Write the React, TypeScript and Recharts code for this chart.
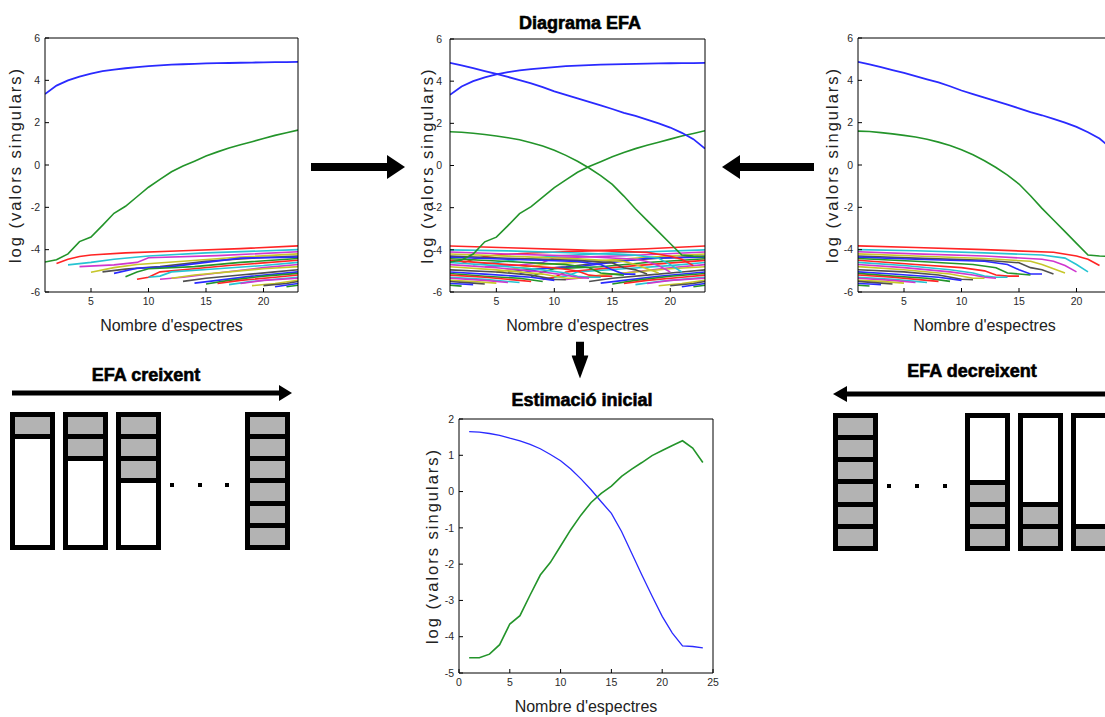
import { LineChart, Line, XAxis, YAxis } from 'recharts';

// spectra index (x) and curve values
const spectra = [1, 2, 3, 4, 5, 6, 7, 8, 9, 10, 11, 12, 13, 14, 15, 16, 17, 18, 19, 20, 21, 22, 23];
const forwardBlue = [3.35, 3.75, 4.0, 4.18, 4.32, 4.43, 4.51, 4.57, 4.62, 4.67, 4.71, 4.74, 4.76, 4.78, 4.8, 4.81, 4.82, 4.83, 4.84, 4.85, 4.86, 4.86, 4.87];
const forwardGreen = [-4.58, -4.48, -4.2, -3.62, -3.4, -2.85, -2.28, -1.95, -1.5, -1.05, -0.68, -0.32, -0.05, 0.18, 0.42, 0.62, 0.8, 0.96, 1.1, 1.25, 1.4, 1.52, 1.65];
const backwardBlue = [4.87, 4.75, 4.62, 4.48, 4.35, 4.2, 4.05, 3.9, 3.72, 3.52, 3.35, 3.18, 3.02, 2.85, 2.68, 2.5, 2.35, 2.18, 2.0, 1.8, 1.55, 1.25, 0.8];
const backwardGreen = [1.6, 1.58, 1.53, 1.47, 1.4, 1.32, 1.22, 1.08, 0.92, 0.72, 0.48, 0.2, -0.12, -0.48, -0.9, -1.45, -2.05, -2.6, -3.15, -3.7, -4.25, -4.3, -4.33];

const estimSpectra = [1, 2, 3, 4, 5, 6, 7, 8, 9, 10, 11, 12, 13, 14, 15, 16, 17, 18, 19, 20, 21, 22, 23, 24];
const estimBlue = [1.65, 1.64, 1.6, 1.55, 1.47, 1.4, 1.3, 1.18, 1.02, 0.85, 0.62, 0.35, 0.05, -0.28, -0.6, -1.1, -1.7, -2.3, -2.88, -3.44, -3.9, -4.25, -4.27, -4.31];
const estimGreen = [-4.58, -4.58, -4.48, -4.22, -3.65, -3.42, -2.85, -2.3, -1.95, -1.5, -1.05, -0.65, -0.3, -0.05, 0.15, 0.42, 0.62, 0.8, 0.99, 1.13, 1.27, 1.4, 1.2, 0.8];

// remaining (noise) singular values, lines 3..23, as [spectrum, value] points
const forwardNoise: [number, number][][] = [
  [[2, -4.65], [3, -4.45], [4, -4.32], [5, -4.25], [8, -4.15], [13, -4.05], [18, -3.95], [23, -3.82]],
  [[3, -4.72], [5, -4.6], [7, -4.45], [10, -4.3], [15, -4.15], [23, -4.0]],
  [[4, -4.8], [7, -4.72], [9, -4.6], [10, -4.38], [16, -4.28], [23, -4.1]],
  [[5, -5.07], [7, -4.85], [9, -4.7], [13, -4.55], [18, -4.35], [23, -4.2]],
  [[6, -5.05], [8, -4.92], [11, -4.8], [15, -4.55], [19, -4.4], [23, -4.3]],
  [[7, -5.12], [9, -4.88], [12, -4.8], [15, -4.6], [18, -4.4], [23, -4.35]],
  [[8, -5.28], [9, -5.05], [10, -4.9], [14, -4.8], [18, -4.6], [23, -4.42]],
  [[9, -5.4], [10, -5.3], [11, -5.05], [13, -4.95], [17, -4.75], [23, -4.5]],
  [[10, -5.3], [11, -5.25], [12, -5.05], [16, -4.9], [20, -4.75], [23, -4.6]],
  [[11, -5.4], [13, -5.3], [16, -5.1], [20, -4.85], [23, -4.7]],
  [[12, -5.35], [14, -5.2], [17, -5.05], [20, -4.9], [23, -4.8]],
  [[13, -5.5], [15, -5.35], [18, -5.2], [21, -5.05], [23, -4.95]],
  [[14, -5.58], [16, -5.45], [19, -5.25], [23, -5.05]],
  [[15, -5.62], [17, -5.45], [20, -5.25], [23, -5.12]],
  [[16, -5.6], [18, -5.45], [21, -5.3], [23, -5.2]],
  [[17, -5.65], [19, -5.5], [21, -5.4], [23, -5.3]],
  [[18, -5.6], [20, -5.45], [23, -5.35]],
  [[19, -5.7], [21, -5.6], [23, -5.45]],
  [[20, -5.7], [22, -5.6], [23, -5.5]],
  [[21, -5.75], [23, -5.6]],
  [[22, -5.75], [23, -5.68]],
];

const backwardNoise: [number, number][][] = [
  [[1, -3.82], [6, -3.9], [12, -4.0], [18, -4.12], [20, -4.3], [21, -4.45], [22, -4.75]],
  [[1, -4.0], [6, -4.05], [12, -4.15], [17, -4.25], [19, -4.4], [20, -4.7], [21, -5.05]],
  [[1, -4.1], [6, -4.2], [12, -4.3], [17, -4.45], [18, -4.55], [19, -4.75], [20, -5.05]],
  [[1, -4.2], [6, -4.3], [12, -4.42], [16, -4.55], [17, -4.7], [18, -4.9], [19, -5.1]],
  [[1, -4.3], [6, -4.4], [12, -4.5], [15, -4.62], [16, -4.85], [17, -4.95], [18, -5.15]],
  [[1, -4.35], [6, -4.45], [12, -4.55], [14, -4.7], [15, -4.95], [16, -5.15], [17, -5.15]],
  [[1, -4.42], [6, -4.55], [11, -4.7], [13, -4.85], [14, -5.1], [15, -5.15], [16, -5.2]],
  [[1, -4.5], [6, -4.7], [10, -4.85], [12, -5.0], [13, -5.2], [14, -5.25], [15, -5.25]],
  [[1, -4.6], [5, -4.75], [9, -4.95], [11, -5.1], [12, -5.25], [13, -5.3], [14, -5.3]],
  [[1, -4.7], [5, -4.85], [9, -5.05], [11, -5.2], [12, -5.3], [13, -5.35]],
  [[1, -4.8], [5, -4.95], [9, -5.15], [11, -5.35], [12, -5.35]],
  [[1, -4.95], [5, -5.05], [8, -5.2], [10, -5.4], [11, -5.42]],
  [[1, -5.05], [4, -5.15], [8, -5.3], [10, -5.45]],
  [[1, -5.12], [4, -5.25], [7, -5.35], [9, -5.5]],
  [[1, -5.2], [4, -5.3], [7, -5.45], [8, -5.5]],
  [[1, -5.3], [4, -5.4], [6, -5.5], [7, -5.55]],
  [[1, -5.35], [4, -5.45], [6, -5.55]],
  [[1, -5.45], [3, -5.5], [5, -5.58]],
  [[1, -5.5], [3, -5.58], [4, -5.62]],
  [[1, -5.6], [2, -5.62], [3, -5.65]],
  [[1, -5.68], [2, -5.72]],
];

const topXTicks = [5, 10, 15, 20];
const topYTicks = [-6, -4, -2, 0, 2, 4, 6];
const estimXTicks = [0, 5, 10, 15, 20, 25];
const estimYTicks = [-5, -4, -3, -2, -1, 0, 1, 2];

const creixentBlocks = [1, 2, 3, 6];
const decreixentBlocks = [6, 3, 2, 1];

const COLORS: Record<string, string> = {
  blue: '#2a2aff',
  green: '#23942a',
  red: '#ff2424',
  cyan: '#26c4d2',
  magenta: '#cf36cf',
  yellow: '#c6c62a',
  black: '#505050',
};
const cycle = ['blue', 'green', 'red', 'cyan', 'magenta', 'yellow', 'black'];

const FONT = '"Liberation Sans", Arial, Helvetica, sans-serif';
const tickStyle = { fontSize: 10.5, fill: '#2a2a2a', fontFamily: FONT };

type Pt = { x: number; y: number };
type Series = { data: Pt[]; color: string; width: number };

const zip = (xs: number[], ys: number[]): Pt[] => ys.map((y, i) => ({ x: xs[i], y }));
const fromPairs = (pairs: [number, number][]): Pt[] => pairs.map(([x, y]) => ({ x, y }));
const noiseSeries = (lines: [number, number][][]): Series[] =>
  lines.map((pts, k) => ({ data: fromPairs(pts), color: COLORS[cycle[(k + 2) % 7]], width: 1.6 }));

const fwdMain: Series[] = [
  { data: zip(spectra, forwardBlue), color: COLORS.blue, width: 1.8 },
  { data: zip(spectra, forwardGreen), color: COLORS.green, width: 1.6 },
];
const bwdMain: Series[] = [
  { data: zip(spectra, backwardBlue), color: COLORS.blue, width: 1.8 },
  { data: zip(spectra, backwardGreen), color: COLORS.green, width: 1.6 },
];
const estimMain: Series[] = [
  { data: zip(estimSpectra, estimBlue), color: COLORS.blue, width: 1.3 },
  { data: zip(estimSpectra, estimGreen), color: COLORS.green, width: 1.6 },
];

interface EfaChartProps {
  left: number;
  top: number;
  width: number;
  height: number;
  marginTop: number;
  yAxisWidth: number;
  yLabelOffset: number;
  yTickMargin: number;
  xDomain: [number, number];
  xTicks: number[];
  yDomain: [number, number];
  yTicks: number[];
  series: Series[];
}

function EfaChart(p: EfaChartProps) {
  const frame = { stroke: '#000', strokeWidth: 1 };
  return (
    <div style={{ position: 'absolute', left: p.left, top: p.top }}>
      <LineChart width={p.width} height={p.height} margin={{ top: p.marginTop - 1, right: 11, bottom: 4, left: 0 }}>
        <XAxis
          dataKey="x"
          type="number"
          domain={p.xDomain}
          ticks={p.xTicks}
          allowDataOverflow
          height={40}
          tickSize={-4}
          tickMargin={10}
          axisLine={frame}
          tickLine={frame}
          tick={tickStyle}
          label={{
            value: "Nombre d'espectres",
            position: 'insideBottom',
            offset: 1,
            fontSize: 16,
            fill: '#222',
            style: { fontSize: 16, fill: '#222', fontFamily: FONT },
          }}
        />
        <XAxis
          xAxisId="t"
          orientation="top"
          type="number"
          domain={p.xDomain}
          ticks={p.xTicks}
          height={1}
          tickSize={-4}
          tick={false}
          axisLine={frame}
          tickLine={frame}
        />
        <YAxis
          type="number"
          domain={p.yDomain}
          ticks={p.yTicks}
          allowDataOverflow
          width={p.yAxisWidth}
          tickSize={-4}
          tickMargin={p.yTickMargin}
          axisLine={frame}
          tickLine={frame}
          tick={tickStyle}
          label={{
            value: 'log (valors singulars)',
            angle: -90,
            position: 'insideLeft',
            offset: p.yLabelOffset,
            fontSize: 16,
            fill: '#222',
            style: { textAnchor: 'middle', fontSize: 16.5, fill: '#222', letterSpacing: 2, fontFamily: FONT },
          }}
        />
        <YAxis
          yAxisId="r"
          orientation="right"
          type="number"
          domain={p.yDomain}
          ticks={p.yTicks}
          width={1}
          tickSize={-4}
          tick={false}
          axisLine={frame}
          tickLine={frame}
        />
        {p.series.map((s, i) => (
          <Line
            key={i}
            data={s.data}
            dataKey="y"
            type="linear"
            stroke={s.color}
            strokeWidth={s.width}
            dot={false}
            activeDot={false}
            isAnimationActive={false}
          />
        ))}
      </LineChart>
    </div>
  );
}

function Arrow({ x, y, length, rotate, shaft, headLen, headW }: { x: number; y: number; length: number; rotate: number; shaft: number; headLen: number; headW: number }) {
  const body = length - headLen;
  return (
    <svg
      width={length}
      height={headW}
      style={{ position: 'absolute', left: x, top: y - headW / 2, transformOrigin: `0px ${headW / 2}px`, transform: `rotate(${rotate}deg)` }}
    >
      <rect x={0} y={(headW - shaft) / 2} width={body + 1} height={shaft} fill="#000" />
      <polygon points={`${body},0 ${length},${headW / 2} ${body},${headW}`} fill="#000" />
    </svg>
  );
}

function Block({ filled, fromBottom }: { filled: number; fromBottom: boolean }) {
  const cells = Array.from({ length: filled }, (_, i) => (
    <div key={i} style={{ height: 17.17, flex: '0 0 auto', background: '#b3b3b3' }} />
  ));
  const blank = filled < 6 ? <div key="w" style={{ flex: 1, background: '#fff' }} /> : null;
  return (
    <div style={{ width: 45, height: 138, boxSizing: 'border-box', background: '#000', padding: 5, display: 'flex', flexDirection: 'column', gap: 5, flex: '0 0 auto' }}>
      {fromBottom ? [blank, ...cells] : [...cells, blank]}
    </div>
  );
}

function Dots({ width, padRight }: { width: number; padRight: number }) {
  return (
    <div style={{ width, height: 138, display: 'flex', alignItems: 'center', justifyContent: 'space-between', paddingLeft: 1, paddingRight: padRight, paddingTop: 8, boxSizing: 'border-box', flex: '0 0 auto' }}>
      {[0, 1, 2].map((i) => (
        <div key={i} style={{ width: 4, height: 4, background: '#000' }} />
      ))}
    </div>
  );
}

function Title({ text, x, y }: { text: string; x: number; y: number }) {
  return (
    <div style={{ position: 'absolute', left: x, top: y, transform: 'translate(-50%, -50%)', fontWeight: 'bold', fontSize: 18, whiteSpace: 'nowrap', color: '#000', lineHeight: 1, WebkitTextStroke: '0.6px #000' }}>
      {text}
    </div>
  );
}

export default function App() {
  return (
    <div style={{ position: 'fixed', left: 0, top: 0, width: 1105, height: 717, overflow: 'hidden', background: '#fff', fontFamily: FONT }}>
      <EfaChart
        left={0}
        top={0}
        width={310}
        height={336}
        marginTop={38}
        yAxisWidth={45}
        yLabelOffset={15}
        yTickMargin={9}
        xDomain={[1, 23]}
        xTicks={topXTicks}
        yDomain={[-6, 6]}
        yTicks={topYTicks}
        series={[...noiseSeries(forwardNoise), ...fwdMain]}
      />
      <EfaChart
        left={410}
        top={0}
        width={307}
        height={336}
        marginTop={39}
        yAxisWidth={40}
        yLabelOffset={17}
        yTickMargin={12}
        xDomain={[1, 23]}
        xTicks={topXTicks}
        yDomain={[-6, 6]}
        yTicks={topYTicks}
        series={[...noiseSeries(forwardNoise), ...noiseSeries(backwardNoise), ...fwdMain, ...bwdMain]}
      />
      <EfaChart
        left={820}
        top={0}
        width={303}
        height={336}
        marginTop={38}
        yAxisWidth={38}
        yLabelOffset={12}
        yTickMargin={9}
        xDomain={[1, 23]}
        xTicks={topXTicks}
        yDomain={[-6, 6]}
        yTicks={topYTicks}
        series={[...noiseSeries(backwardNoise), ...bwdMain]}
      />
      <EfaChart
        left={420}
        top={380}
        width={305}
        height={337}
        marginTop={39}
        yAxisWidth={39}
        yLabelOffset={12}
        yTickMargin={9}
        xDomain={[0, 25]}
        xTicks={estimXTicks}
        yDomain={[-5, 2]}
        yTicks={estimYTicks}
        series={estimMain}
      />

      <Title text="Diagrama EFA" x={580} y={23} />
      <Title text="Estimació inicial" x={582} y={400} />
      <Title text="EFA creixent" x={146} y={375} />
      <Title text="EFA decreixent" x={972} y={371} />

      <Arrow x={311} y={167} length={94} rotate={0} shaft={8} headLen={18} headW={24} />
      <Arrow x={814} y={167} length={92} rotate={180} shaft={8} headLen={18} headW={24} />
      <Arrow x={580} y={341} length={37} rotate={90} shaft={8} headLen={23} headW={17} />
      <Arrow x={12} y={393} length={280} rotate={0} shaft={5} headLen={13} headW={16} />
      <Arrow x={1110} y={394} length={277} rotate={180} shaft={5} headLen={14} headW={16} />

      <div style={{ position: 'absolute', left: 10, top: 412, display: 'flex', gap: 8 }}>
        <Block filled={creixentBlocks[0]} fromBottom={false} />
        <Block filled={creixentBlocks[1]} fromBottom={false} />
        <Block filled={creixentBlocks[2]} fromBottom={false} />
        <Dots width={68} padRight={8} />
        <Block filled={creixentBlocks[3]} fromBottom={false} />
      </div>
      <div style={{ position: 'absolute', left: 833, top: 413, display: 'flex', gap: 8 }}>
        <Block filled={decreixentBlocks[0]} fromBottom />
        <Dots width={71} padRight={10} />
        <Block filled={decreixentBlocks[1]} fromBottom />
        <Block filled={decreixentBlocks[2]} fromBottom />
        <Block filled={decreixentBlocks[3]} fromBottom />
      </div>
    </div>
  );
}
